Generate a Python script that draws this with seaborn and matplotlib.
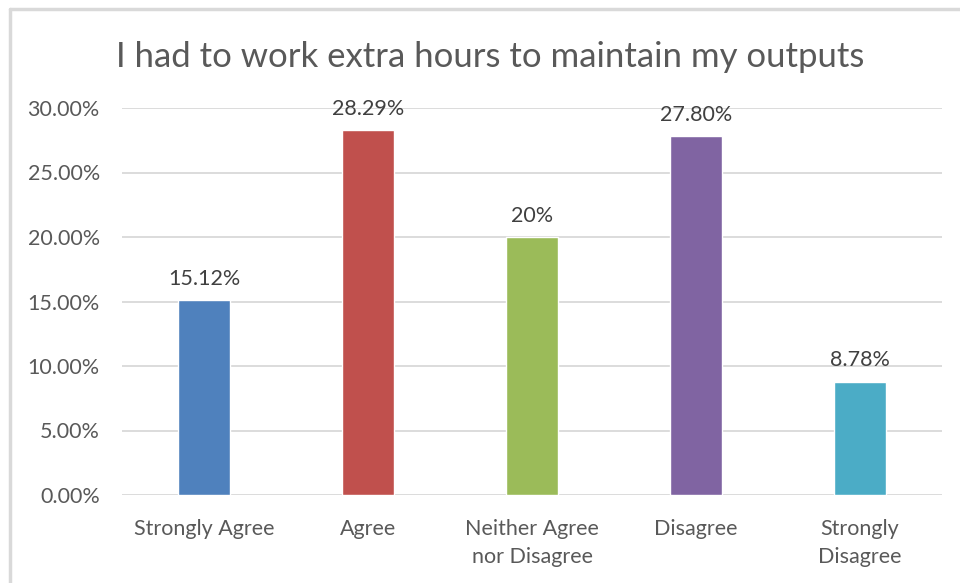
import matplotlib
matplotlib.use("Agg")
import matplotlib.pyplot as plt
import matplotlib.lines as mlines
import seaborn as sns
import pandas as pd
from matplotlib.ticker import FuncFormatter

categories = ["Strongly Agree", "Agree", "Neither Agree\nnor Disagree", "Disagree", "Strongly\nDisagree"]
values = [15.12, 28.29, 20.0, 27.80, 8.78]
value_labels = ["15.12%", "28.29%", "20%", "27.80%", "8.78%"]
colors = ["#4F81BD", "#C0504D", "#9BBB59", "#8064A2", "#4BACC6"]
title = "I had to work extra hours to maintain my outputs"

sns.set_theme(style="white")
plt.rcParams["font.family"] = ["Lato", "DejaVu Sans"]

df = pd.DataFrame({"category": categories, "value": values})

W, H = 960, 583
fig = plt.figure(figsize=(W / 100, H / 100), dpi=100)
ax = fig.add_axes([122 / W, (H - 495) / H, (942 - 122) / W, (495 - 108) / H])

sns.barplot(data=df, x="category", y="value", hue="category", palette=colors,
            width=0.32, legend=False, ax=ax, saturation=1)

ax.set_ylim(0, 30)
ax.set_yticks([0, 5, 10, 15, 20, 25, 30])
ax.yaxis.set_major_formatter(FuncFormatter(lambda v, p: f"{v:.2f}%"))
ax.grid(axis="y", color="#D9D9D9", linewidth=1.3)
ax.set_axisbelow(True)
for s in ax.spines.values():
    s.set_visible(False)
ax.set_xlabel("")
ax.set_ylabel("")
ax.tick_params(axis="both", length=0, labelsize=15.5, colors="#595959")
ax.tick_params(axis="y", pad=16)
ax.tick_params(axis="x", pad=17)
for t in ax.get_xticklabels():
    t.set_linespacing(1.55)

for i, (v, lab) in enumerate(zip(values, value_labels)):
    ax.annotate(lab, (i, v), xytext=(0, 11), textcoords="offset points",
                ha="center", va="baseline", fontsize=15.5, color="#404040")

fig.text(490 / W, 1 - 67 / H, title, ha="center", va="baseline",
         fontsize=25, color="#595959")

# outer frame of the chart
fig.add_artist(mlines.Line2D([10 / W, 10 / W], [0, 1 - 9 / H], color="#D9D9D9", lw=2.5))
fig.add_artist(mlines.Line2D([10 / W, 1], [1 - 9 / H, 1 - 9 / H], color="#D9D9D9", lw=2.5))

fig.savefig("out.png", dpi=100)
